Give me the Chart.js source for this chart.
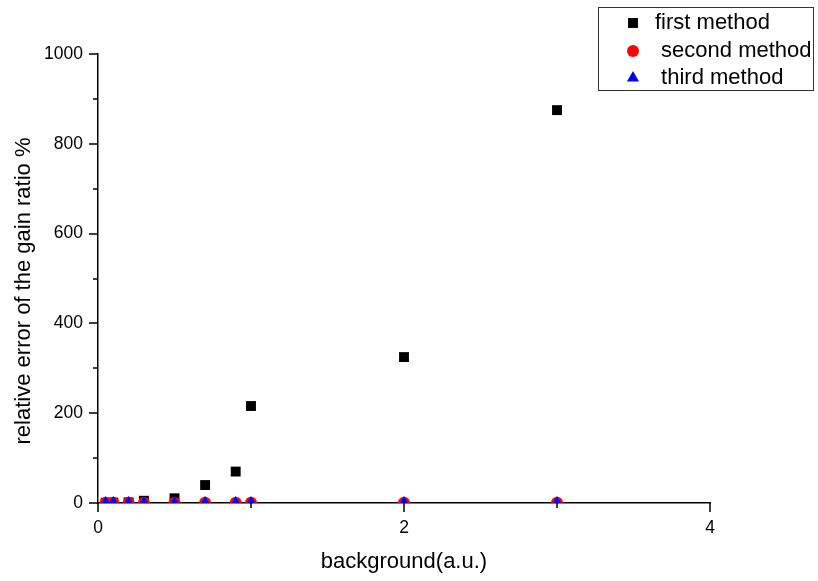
<!DOCTYPE html>
<html>
<head>
<meta charset="utf-8">
<script src="https://cdn.jsdelivr.net/npm/chart.js@4/dist/chart.umd.min.js"></script>
<style>
  html, body { margin: 0; padding: 0; background: #fff; }
  #wrap { width: 818px; height: 581px; position: relative; }
</style>
</head>
<body>
<div id="wrap"><canvas id="gainChart"></canvas></div>
<script>
// data
const background = [0.05, 0.1, 0.2, 0.3, 0.5, 0.7, 0.9, 1, 2, 3];
const firstMethod = [0.5, 1, 1.5, 5, 10.5, 40, 70, 216, 325, 875];
const secondMethod = [0.5, 0.5, 0.5, 0.5, 0.5, 0.5, 0.5, 0.5, 0.5, 0.5];
const thirdMethod = [0.2, 0.2, 0.2, 0.2, 0.2, 0.2, 0.2, 0.2, 0.2, 0.2];
const seriesNames = ['first method', ' second method', ' third method'];

// ticks
const xMajorTicks = [0, 2, 4];
const xMinorTicks = [1, 3];
const yMajorTicks = [0, 200, 400, 600, 800, 1000];
const yMinorTicks = [100, 300, 500, 700, 900];

const FONT = 'Liberation Sans, Arial, Helvetica, sans-serif';

function toPoints(ys) {
  return background.map((x, i) => ({ x: x, y: ys[i] }));
}

function setTicks(scale, major, minor) {
  scale.ticks = major.concat(minor).sort((a, b) => a - b).map(v => ({ value: v }));
}

// tick marks (long major, short minor), legend box and y title
const decorations = {
  id: 'decorations',
  afterDraw(chart) {
    const ctx = chart.ctx;
    const xs = chart.scales.x;
    const ys = chart.scales.y;
    const area = chart.chartArea;
    ctx.save();
    ctx.strokeStyle = '#000';
    ctx.lineWidth = 1.5;
    ctx.beginPath();
    xs.ticks.forEach(t => {
      const px = Math.round(xs.getPixelForValue(t.value));
      const len = xMajorTicks.includes(t.value) ? 9 : 5;
      ctx.moveTo(px, area.bottom);
      ctx.lineTo(px, area.bottom + len);
    });
    ys.ticks.forEach(t => {
      const py = Math.round(ys.getPixelForValue(t.value));
      const len = yMajorTicks.includes(t.value) ? 9 : 5;
      ctx.moveTo(area.left, py);
      ctx.lineTo(area.left - len, py);
    });
    ctx.stroke();

    // legend
    ctx.lineWidth = 1;
    ctx.strokeStyle = '#333';
    ctx.strokeRect(598.5, 7.5, 215, 83);
    const rowY = [23, 51, 78];
    ctx.font = '22px ' + FONT;
    ctx.textBaseline = 'middle';
    ctx.textAlign = 'left';
    chart.data.datasets.forEach((ds, i) => {
      ctx.fillStyle = ds.backgroundColor;
      Chart.helpers.drawPoint(ctx, {
        pointStyle: ds.pointStyle,
        radius: ds.pointRadius,
        borderWidth: 0,
        rotation: 0
      }, 633, rowY[i]);
      ctx.fillStyle = '#000';
      ctx.fillText(ds.label, 655, rowY[i]);
    });

    // y axis title
    ctx.translate(24, 291);
    ctx.rotate(-Math.PI / 2);
    ctx.textAlign = 'center';
    ctx.fillText('relative error of the gain ratio %', 0, 0);
    ctx.restore();
  }
};

new Chart(document.getElementById('gainChart'), {
  type: 'scatter',
  data: {
    datasets: [
      {
        label: seriesNames[0],
        data: toPoints(firstMethod),
        pointStyle: 'rect',
        pointRadius: 7,
        backgroundColor: '#000',
        borderWidth: 0,
        clip: 0,
        order: 3
      },
      {
        label: seriesNames[1],
        data: toPoints(secondMethod),
        pointStyle: 'circle',
        pointRadius: 6,
        backgroundColor: '#ff0000',
        borderWidth: 0,
        clip: 0,
        order: 2
      },
      {
        label: seriesNames[2],
        data: toPoints(thirdMethod),
        pointStyle: 'triangle',
        pointRadius: 7,
        backgroundColor: '#0000ff',
        borderWidth: 0,
        clip: 0,
        order: 1
      }
    ]
  },
  options: {
    responsive: true,
    maintainAspectRatio: false,
    animation: false,
    layout: { padding: { left: 0, right: 108, top: 54, bottom: 0 } },
    plugins: {
      legend: { display: false },
      tooltip: { enabled: false }
    },
    scales: {
      x: {
        type: 'linear',
        min: 0,
        max: 4,
        afterBuildTicks: s => setTicks(s, xMajorTicks, xMinorTicks),
        afterFit: s => { s.height = 78; },
        grid: { display: true, drawOnChartArea: false, drawTicks: false },
        border: { display: true, color: '#000', width: 1.5 },
        ticks: {
          color: '#000',
          padding: 15,
          maxRotation: 0,
          autoSkip: false,
          font: { family: FONT, size: 17.5 },
          callback: v => xMajorTicks.includes(v) ? String(v) : ''
        },
        title: {
          display: true,
          text: 'background(a.u.)',
          color: '#000',
          font: { family: FONT, size: 22 },
          padding: { top: 0, bottom: 6 }
        }
      },
      y: {
        type: 'linear',
        min: 0,
        max: 1000,
        afterBuildTicks: s => setTicks(s, yMajorTicks, yMinorTicks),
        afterFit: s => { s.width = 98; },
        grid: { display: true, drawOnChartArea: false, drawTicks: false },
        border: { display: true, color: '#000', width: 1.5 },
        ticks: {
          color: '#000',
          padding: 15,
          autoSkip: false,
          font: { family: FONT, size: 17.5 },
          callback: v => yMajorTicks.includes(v) ? String(v) : ''
        }
      }
    }
  },
  plugins: [decorations]
});
</script>
</body>
</html>
